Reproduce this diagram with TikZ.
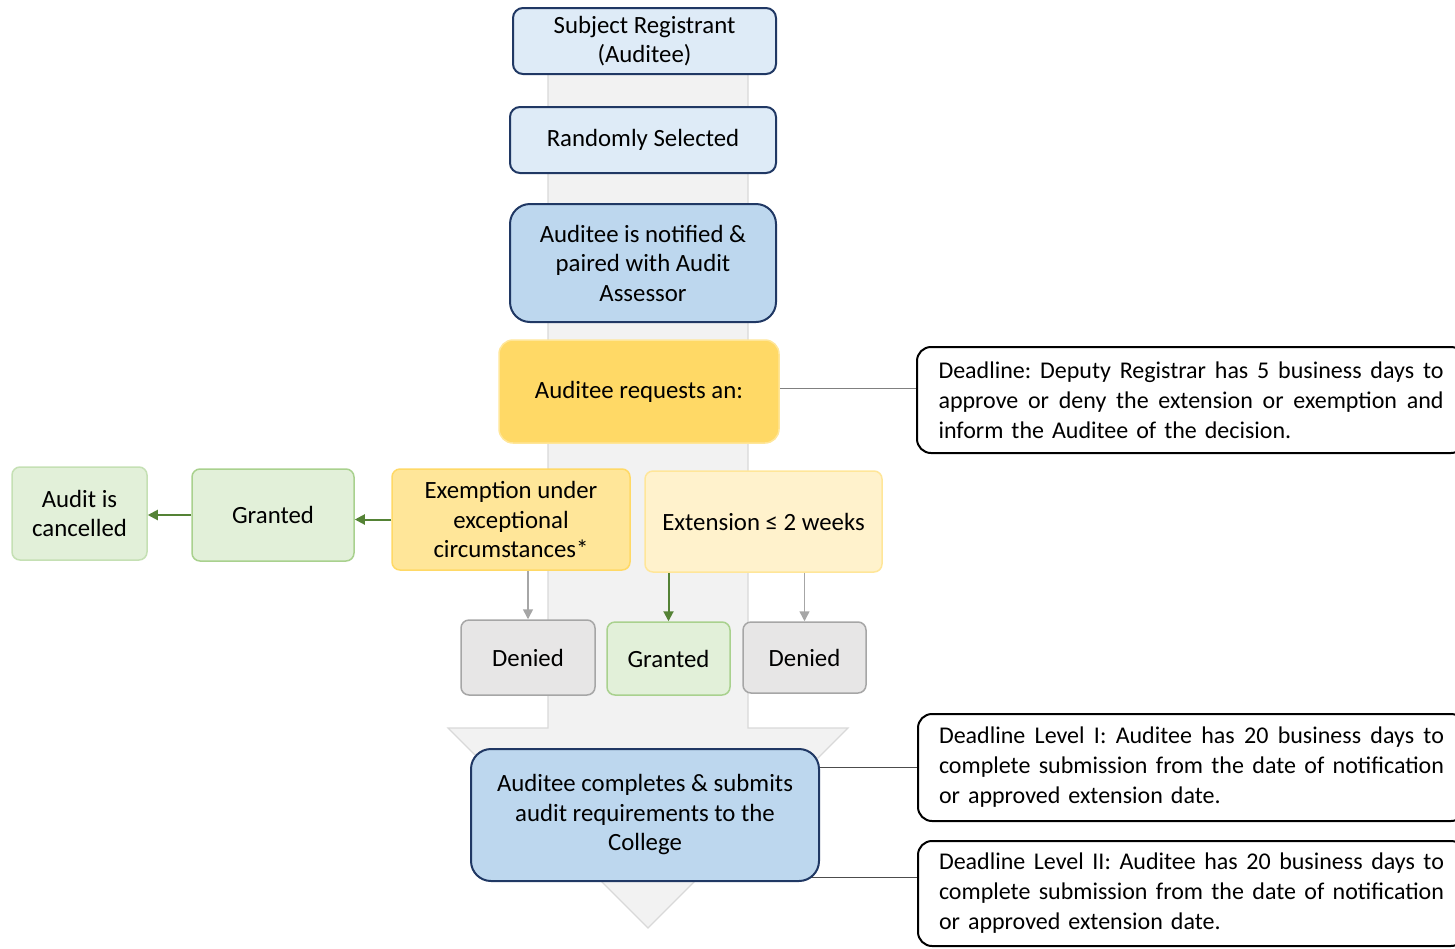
\documentclass[tikz,border=0pt]{standalone}
\usepackage{fontspec}
\setmainfont{Carlito}
\usetikzlibrary{arrows.meta}
\usetikzlibrary{backgrounds}
\definecolor{navy}{HTML}{203864}
\definecolor{paleblue}{HTML}{DEEBF7}
\definecolor{midblue}{HTML}{BDD7EE}
\definecolor{gold}{HTML}{FFD966}
\definecolor{lightgold}{HTML}{FFE699}
\definecolor{palegold}{HTML}{FFF2CC}
\definecolor{palegreen}{HTML}{E2F0D9}
\definecolor{midgreen}{HTML}{A9D18E}
\definecolor{softgreen}{HTML}{C5E0B4}
\definecolor{darkgreen}{HTML}{548235}
\definecolor{palegray}{HTML}{E7E6E6}
\definecolor{midgray}{HTML}{A6A6A6}
\definecolor{flowgray}{HTML}{F2F2F2}
\definecolor{flowedge}{HTML}{D9D9D9}
\tikzset{box/.style = {draw, rounded corners=4pt, align=center, inner sep=0, line width=0.75pt}}
\tikzset{bluebox/.style = {box, draw=navy, line width=1pt}}
\tikzset{notebox/.style = {box, draw=black, line width=1pt, rounded corners=7pt, align=left, font=\fontsize{12}{15}\selectfont}}
\tikzset{greenbox/.style = {box, fill=palegreen, draw=midgreen}}
\tikzset{graybox/.style = {box, fill=palegray, draw=midgray}}
\tikzset{garrow/.style = {draw=darkgreen, line width=1pt, -{Triangle[length=5pt,width=5pt]}}}
\tikzset{darrow/.style = {draw=midgray, line width=0.75pt, -{Triangle[length=5pt,width=5pt]}}}
\newcommand{\fullline}[1]{\makebox[252.5pt][s]{\frenchspacing\spaceskip=\fontdimen2\font plus 1fil\relax #1}}

\begin{document}
\begin{tikzpicture}[x=0.5pt, y=-0.5pt, every node/.style={font=\fontsize{12.4}{14.75}\selectfont}]
      \useasboundingbox (0,0) rectangle (1455,948);
      % the wide arrow behind the flow
      \fill [flowgray, draw=flowedge, line width=0.6pt] (548,40) -- (748,40) -- (748,728) -- (848,728) -- (648,928) -- (448,728) -- (548,728) -- cycle;
      \node [bluebox, fill=paleblue, rounded corners=5pt, minimum width=131.5pt, minimum height=33pt] (subj) at (644.5, 41) {Subject Registrant\\(Auditee)};
      \node [bluebox, fill=paleblue, rounded corners=5pt, minimum width=133pt, minimum height=33pt] (rand) at (643, 140) {Randomly Selected};
      \node [bluebox, fill=midblue, rounded corners=10pt, minimum width=133pt, minimum height=59pt] (notif) at (643, 263) {Auditee is notified \&\\paired with Audit\\Assessor};
      \node [box, fill=gold, draw=lightgold, rounded corners=7pt, minimum width=140pt, minimum height=51.5pt] (req) at (639, 391.5) {Auditee requests an:};
      \node [notebox, minimum width=274pt, minimum height=53pt, text width=252.5pt] (dldecide) at (1191, 400) {\fullline{Deadline: Deputy Registrar has 5 business days to}\\\fullline{approve or deny the extension or exemption and}\\inform the Auditee of the decision.};
      \node [box, fill=lightgold, draw=gold, minimum width=119pt, minimum height=50.5pt] (exem) at (511, 519.5) {Exemption under\\exceptional\\circumstances*};
      \node [box, fill=palegold, draw=lightgold, minimum width=118.5pt, minimum height=50.5pt] (ext) at (763.5, 521.5) {Extension ≤ 2 weeks};
      \node [greenbox, minimum width=81pt, minimum height=46pt] (grleft) at (273, 515) {Granted};
      \node [greenbox, draw=softgreen, minimum width=67.5pt, minimum height=46.5pt] (cancel) at (79.5, 513.5) {Audit is\\cancelled};
      \node [graybox, minimum width=67pt, minimum height=37.5pt] (denone) at (528, 657.5) {Denied};
      \node [greenbox, minimum width=61.5pt, minimum height=36.5pt] (grmid) at (668.5, 658.5) {Granted};
      \node [graybox, minimum width=61.5pt, minimum height=35.5pt] (dentwo) at (804.5, 657.5) {Denied};
      \node [bluebox, fill=midblue, rounded corners=10pt, minimum width=174pt, minimum height=66pt] (final) at (645, 815) {Auditee completes \& submits\\audit requirements to the\\College};
      \node [notebox, minimum width=273.5pt, minimum height=53.5pt, text width=252.5pt] (dlone) at (1191.5, 767.5) {\fullline{Deadline Level I: Auditee has 20 business days to}\\\fullline{complete submission from the date of notification}\\or approved extension date.};
      \node [notebox, minimum width=273.5pt, minimum height=52.5pt, text width=252.5pt] (dltwo) at (1191.5, 893.5) {\fullline{Deadline Level II: Auditee has 20 business days to}\\\fullline{complete submission from the date of notification}\\or approved extension date.};
      \coordinate (lvltwo) at ([yshift=8pt]dltwo.west);
      \coordinate (reqline) at ([yshift=1.5pt]req.east);
      \draw [garrow] (exem.west) -- (exem.west -| grleft.east);
      \draw [garrow] (grleft.west) -- (grleft.west -| cancel.east);
      \draw [darrow] (denone.north |- exem.south) -- (denone.north);
      \draw [garrow] (grmid.north |- ext.south) -- (grmid.north);
      \draw [darrow] (dentwo.north |- ext.south) -- (dentwo.north);
      \draw [draw=black!50, line width=0.75pt] (reqline) -- (reqline -| dldecide.west);
      \begin{scope}[on background layer]
        \draw [draw=black!70, line width=0.75pt] (dlone.west -| final.center) -- (dlone.west);
        \draw [draw=black!70, line width=0.75pt] (lvltwo -| final.center) -- (lvltwo);
      \end{scope}
    \end{tikzpicture}
\end{document}
